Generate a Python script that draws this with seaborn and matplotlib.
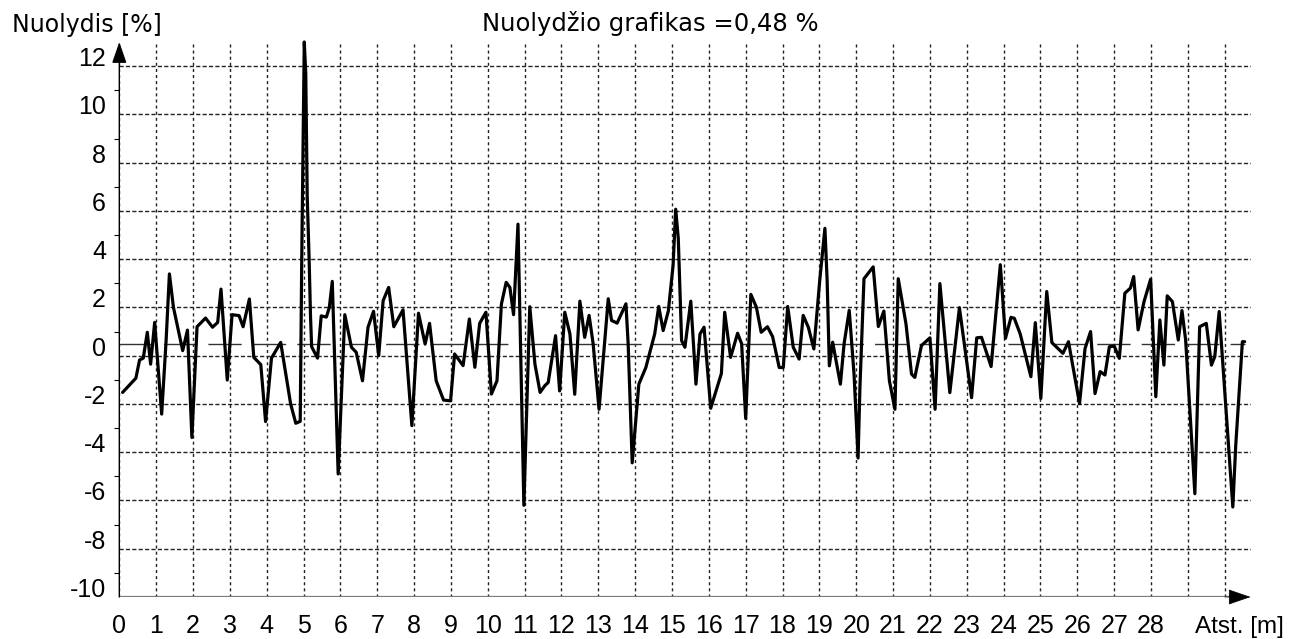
import numpy as np
import pandas as pd
import matplotlib
matplotlib.use("Agg")
import matplotlib.pyplot as plt
import seaborn as sns

# -----------------------------
# DATA
# -----------------------------
dist = [0.09, 0.45, 0.55, 0.65, 0.76, 0.85, 0.96, 1.15, 1.27, 1.36,
        1.47, 1.72, 1.85, 1.97, 2.11, 2.34, 2.53, 2.67, 2.76, 2.93,
        3.06, 3.25, 3.36, 3.53, 3.65, 3.84, 3.97, 4.13, 4.38, 4.65,
        4.79, 4.91, 4.95, 4.97, 4.99, 5.02, 5.06, 5.08, 5.10, 5.15,
        5.19, 5.22, 5.38, 5.48, 5.62, 5.70, 5.78, 5.94, 6.12, 6.30,
        6.43, 6.60, 6.75, 6.90, 7.04, 7.16, 7.31, 7.45, 7.70, 7.94,
        8.12, 8.30, 8.42, 8.60, 8.80, 8.99, 9.10, 9.33, 9.50, 9.65,
        9.78, 9.95, 10.10, 10.25, 10.37, 10.50, 10.60, 10.70, 10.82, 10.98,
        11.14, 11.28, 11.42, 11.55, 11.64, 11.84, 11.95, 12.09, 12.23, 12.36,
        12.50, 12.63, 12.75, 12.86, 13.02, 13.27, 13.36, 13.51, 13.75, 13.81,
        13.92, 14.10, 14.29, 14.53, 14.64, 14.76, 14.90, 15.03, 15.10, 15.17,
        15.26, 15.35, 15.51, 15.65, 15.76, 15.87, 16.05, 16.34, 16.43, 16.59,
        16.78, 16.89, 17.00, 17.14, 17.29, 17.42, 17.59, 17.73, 17.91, 18.02,
        18.14, 18.29, 18.45, 18.56, 18.70, 18.85, 19.01, 19.15, 19.21, 19.27,
        19.36, 19.42, 19.57, 19.67, 19.81, 19.94, 20.05, 20.10, 20.21, 20.46,
        20.60, 20.75, 20.90, 21.05, 21.14, 21.35, 21.50, 21.59, 21.77, 22.00,
        22.14, 22.27, 22.54, 22.80, 23.13, 23.27, 23.40, 23.66, 23.80, 23.91,
        23.95, 24.05, 24.20, 24.29, 24.45, 24.74, 24.86, 25.01, 25.17, 25.31,
        25.61, 25.76, 26.06, 26.21, 26.36, 26.48, 26.62, 26.75, 26.87, 27.00,
        27.14, 27.29, 27.44, 27.53, 27.65, 27.81, 27.99, 28.13, 28.24, 28.35,
        28.44, 28.58, 28.74, 28.84, 28.94, 29.19, 29.32, 29.50, 29.64, 29.73,
        29.85, 30.22, 30.30, 30.48, 30.54]

slope = [-1.52, -0.93, -0.18, -0.10, 0.97, -0.35, 1.38, -2.42, 0.62, 3.39,
         2.00, 0.21, 1.06, -3.39, 1.20, 1.56, 1.18, 1.38, 2.76, -1.01,
         1.70, 1.66, 1.20, 2.35, -0.07, -0.37, -2.73, -0.10, 0.55, -2.00,
         -2.80, -2.72, 3.80, 6.40, 9.10, 13.00, 11.70, 9.00, 6.60, 4.10,
         1.60, 0.37, -0.10, 1.65, 1.60, 2.00, 3.08, -4.90, 1.70, 0.35,
         0.14, -1.04, 1.18, 1.84, 0.00, 2.28, 2.83, 1.20, 1.90, -2.90,
         1.76, 0.48, 1.34, -1.04, -1.84, -1.87, 0.07, -0.41, 1.52, -0.48,
         1.34, 1.80, -1.59, -1.04, 2.14, 3.04, 2.83, 1.70, 5.45, -6.20,
         2.03, -0.35, -1.52, -1.24, -1.11, 0.83, -1.46, 1.80, 0.90, -1.60,
         2.26, 0.76, 1.67, 0.49, -2.22, 2.36, 1.46, 1.35, 2.15, 0.49,
         -4.44, -1.18, -0.49, 0.90, 2.04, 1.04, 1.85, 3.75, 6.07, 4.86,
         0.63, 0.35, 2.26, -1.18, 0.90, 1.18, -2.18, -0.74, 1.80, -0.07,
         0.93, 0.49, -2.60, 2.54, 2.01, 0.97, 1.20, 0.79, -0.49, -0.49,
         2.04, 0.35, -0.14, 1.67, 1.18, 0.28, 3.13, 5.28, 3.13, -0.42,
         0.56, 0.07, -1.18, 0.49, 1.88, -0.76, -4.24, -1.32, 3.19, 3.68,
         1.21, 1.85, -1.04, -2.22, 3.19, 1.32, -0.76, -0.90, 0.42, 0.74,
         -2.22, 2.99, -1.53, 1.99, -1.74, 0.74, 0.76, -0.45, 1.90, 3.77,
         2.94, 0.72, 1.59, 1.55, 0.90, -0.87, 1.37, -1.77, 2.66, 0.54,
         0.10, 0.58, -1.98, 0.30, 1.00, -1.57, -0.66, -0.80, 0.37, 0.40,
         -0.11, 2.59, 2.80, 3.28, 1.07, 2.24, 3.17, -1.70, 1.48, -0.39,
         2.48, 2.24, 0.65, 1.87, 0.65, -5.72, 1.20, 1.34, -0.39, -0.04,
         1.83, -6.27, -3.70, 0.58, 0.58]

mean_slope = 0.48
x_ticks = list(range(0, 31))
x_tick_labels = [str(i) for i in range(0, 29)] + ["", ""]
y_ticks = list(range(-10, 13, 2))
y_minor = list(range(-9, 13, 2))

df = pd.DataFrame({"dist": dist, "slope": slope})

# -----------------------------
# STYLE
# -----------------------------
sns.set_theme(style="white")
plt.rcParams["font.family"] = ["DejaVu Sans"]
num_font = ["Liberation Sans", "DejaVu Sans"]

W, H = 1289, 639
fig = plt.figure(figsize=(W / 100, H / 100), dpi=100)
# axes: x 0..30.7 -> px 119..1250, y -10..13 -> px 597..42
ax = fig.add_axes([119.3 / W, (H - 597) / H, (1250.5 - 119.3) / W, (597 - 42) / H])
ax.set_xlim(0, 30.7)
ax.set_ylim(-10, 13)

# ticks and grid
ax.set_xticks(x_ticks)
ax.set_xticklabels(x_tick_labels, fontfamily=num_font, fontsize=18)
ax.set_yticks(y_ticks)
ax.set_yticklabels([str(v) for v in y_ticks], fontfamily=num_font, fontsize=18)
ax.set_yticks(y_minor, minor=True)
for lab in ax.get_yticklabels():
    lab.set_verticalalignment("baseline")

ax.xaxis.grid(True, color="#222222", linewidth=1.0, linestyle=(0, (2.2, 2.2)))
ax.yaxis.grid(True, which="major", color="#222222", linewidth=1.0, linestyle=(0, (3, 1.6)))
ax.tick_params(axis="x", which="major", direction="out", length=6.5, width=0.8,
               color="black", pad=5.5, labelcolor="black")
ax.tick_params(axis="y", which="major", direction="out", length=8, width=0.8,
               color="black", pad=1.5, labelcolor="black")
ax.tick_params(axis="y", which="minor", direction="out", length=3.8, width=0.8,
               color="black", left=True)
for s in ax.spines.values():
    s.set_visible(False)

# mean slope line
ax.hlines(mean_slope, 0, dist[-1], color="#333333", linewidth=1.0,
          linestyles=[(0, (24, 8))], zorder=2)

# profile
sns.lineplot(data=df, x="dist", y="slope", ax=ax, color="black", linewidth=2.3,
             sort=False, estimator=None, zorder=4, clip_on=False)
ax.set_xlabel("")
ax.set_ylabel("")

# axes lines with arrows
ax.axhline(-10, xmin=0, xmax=30.15 / 30.7, color="#7a7a7a", linewidth=1.6, zorder=5)
ax.annotate("", xy=(30.7, -10), xytext=(30.0, -10), annotation_clip=False,
            arrowprops=dict(arrowstyle="-|>,head_length=1.45,head_width=0.5",
                            mutation_scale=10, color="black", lw=0.5,
                            shrinkA=0, shrinkB=0), zorder=6)
ax.annotate("", xy=(0, 13), xytext=(0, -10), annotation_clip=False,
            arrowprops=dict(arrowstyle="-|>,head_length=1.3,head_width=0.45",
                            mutation_scale=10, color="black", lw=1.0,
                            shrinkA=0, shrinkB=0), zorder=6)

# texts
fig.text(650 / W, 1 - 31 / H, f"Nuolydžio grafikas ={mean_slope:.2f} %".replace(".", ","),
         ha="center", va="baseline", fontsize=17.5, color="black")
fig.text(12 / W, 1 - 32 / H, "Nuolydis [%]", ha="left", va="baseline",
         fontsize=17, color="black")
fig.text(1195 / W, 1 - 633 / H, "Atst. [m]", ha="left", va="baseline",
         fontsize=17.5, color="black", fontfamily=num_font)

fig.savefig("out.png", dpi=100, facecolor="white")
